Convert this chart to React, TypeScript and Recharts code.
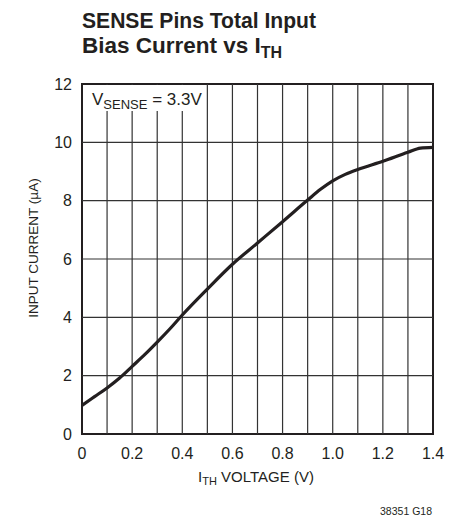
import { LineChart, Line, XAxis, YAxis, ReferenceLine, ReferenceArea } from 'recharts';

// I_TH voltage (V) vs total input bias current (µA)
const ithVolts = [0, 0.05, 0.1, 0.15, 0.2, 0.25, 0.3, 0.35, 0.4, 0.5, 0.6, 0.7, 0.8, 0.9, 0.95, 1.0, 1.05, 1.1, 1.2, 1.3, 1.35, 1.4];
const inputCurrent = [0.98, 1.28, 1.58, 1.92, 2.32, 2.72, 3.15, 3.6, 4.08, 4.97, 5.82, 6.55, 7.28, 8.02, 8.38, 8.68, 8.9, 9.07, 9.35, 9.66, 9.8, 9.83];

const xTicks = [0, 0.2, 0.4, 0.6, 0.8, 1.0, 1.2, 1.4];
const yTicks = [0, 2, 4, 6, 8, 10, 12];
const xGrid = [0.1, 0.2, 0.3, 0.4, 0.5, 0.6, 0.7, 0.8, 0.9, 1.0, 1.1, 1.2, 1.3];
const yGrid = [2, 4, 6, 8, 10];

const data = ithVolts.map((v, i) => ({ v, i: inputCurrent[i] }));

const FONT = '"Liberation Sans", Arial, Helvetica, sans-serif';
const INK = '#231f20';

export default function App() {
  return (
    <div style={{ position: 'absolute', left: 0, top: 0, width: 460, height: 523, background: '#fff' }}>
      <LineChart width={460} height={523} data={data} margin={{ top: 84, right: 27, bottom: 59, left: 0 }}>
        <XAxis
          dataKey="v"
          type="number"
          domain={[0, 1.4]}
          ticks={xTicks}
          tickFormatter={(t: number) => (t === 0 ? '0' : t.toFixed(1))}
          axisLine={false}
          tickLine={false}
          tickSize={6}
          tickMargin={8}
          height={30}
          tick={{ fill: INK, fontSize: 16, fontFamily: FONT }}
        />
        <YAxis
          type="number"
          domain={[0, 12]}
          ticks={yTicks}
          axisLine={false}
          tickLine={false}
          tickSize={6}
          tickMargin={4}
          width={82}
          tick={{ fill: INK, fontSize: 16, fontFamily: FONT }}
        />
        {xGrid.map((g) => (
          <ReferenceLine key={'x' + g} x={g} stroke="#333" strokeWidth={1.2} />
        ))}
        {yGrid.map((g) => (
          <ReferenceLine key={'y' + g} y={g} stroke="#333" strokeWidth={1.2} />
        ))}
        <ReferenceArea x1={0} x2={1.4} y1={0} y2={12} fill="none" stroke={INK} strokeWidth={2} />
        <Line
          type="monotone"
          dataKey="i"
          stroke={INK}
          strokeWidth={3.2}
          dot={false}
          isAnimationActive={false}
        />
      </LineChart>
      <svg width={460} height={523} style={{ position: 'absolute', left: 0, top: 0, pointerEvents: 'none' }}>
        {/* title */}
        <text x={82} y={28} fontFamily={FONT} fontWeight="bold" fontSize={22.5} fill={INK} textLength={234} lengthAdjust="spacingAndGlyphs">
          SENSE Pins Total Input
        </text>
        <text x={82} y={53} fontFamily={FONT} fontWeight="bold" fontSize={22.5} fill={INK}>
          Bias Current vs I<tspan fontSize={16} dy={5}>TH</tspan>
        </text>
        {/* annotation */}
        <rect x={83.5} y={85} width={116} height={26} fill="#fff" />
        <text x={92} y={105} fontFamily={FONT} fontSize={17} fill={INK}>
          V<tspan fontSize={13} dy={4}>SENSE</tspan>
          <tspan dy={-4}> = 3.3V</tspan>
        </text>
        {/* axis titles */}
        <text
          x={38}
          y={248}
          transform="rotate(-90 38 248)"
          textAnchor="middle"
          fontFamily={FONT}
          fontSize={13.5}
          fill={INK}
        >
          INPUT CURRENT (µA)
        </text>
        <text x={256} y={482} textAnchor="middle" fontFamily={FONT} fontSize={15} fill={INK}>
          I<tspan fontSize={11} dy={3}>TH</tspan>
          <tspan dy={-3}> VOLTAGE (V)</tspan>
        </text>
        <text x={432} y={515} textAnchor="end" fontFamily={FONT} fontSize={10.5} fill={INK}>
          38351 G18
        </text>
      </svg>
    </div>
  );
}
